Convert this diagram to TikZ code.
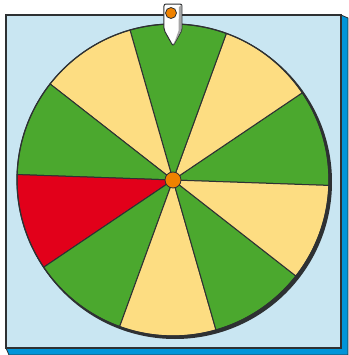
\documentclass[tikz,border=0pt]{standalone}
\usepackage{tikz}
\usetikzlibrary{calc}
\definecolor{ink}{HTML}{2E3133}
\definecolor{boardc}{HTML}{C9E6F2}
\definecolor{edgec}{HTML}{0095D9}
\definecolor{greenc}{HTML}{4BA82E}
\definecolor{yellowc}{HTML}{FDDD82}
\definecolor{redc}{HTML}{E2001A}
\definecolor{hubc}{HTML}{EF8200}

\begin{document}
\begin{tikzpicture}[
  x=0.5pt, y=0.5pt,
  board/.style={fill=boardc, draw=ink, line width=0.7pt},
  side/.style={fill=edgec, draw=ink, line width=0.4pt, line join=round},
  sector/.style={draw=ink, line width=0.5pt, line join=round},
  dot/.style={circle, fill=hubc, draw=ink, line width=0.4pt, inner sep=0pt},
]
\useasboundingbox (0,0) rectangle (349,355);
% -- board with its blue edge
\filldraw[side] (6,7) -- (9,0) -- (348,0) -- (348,337) -- (341,340) -- (341,7) -- cycle;
\filldraw[board] (6,7) rectangle (341,340);
% -- wheel
\coordinate (hub) at (173,175);
\fill[ink] ($(hub)+(2,-2)$) circle[radius=157];
\foreach \a/\c in {358/greenc, 34/yellowc, 70/greenc, 106/yellowc, 142/greenc,
                   178/redc, 214/greenc, 250/yellowc, 286/greenc, 322/yellowc}
  \filldraw[sector, fill=\c] (hub) -- ++(\a:156) arc[start angle=\a, delta angle=36, radius=156] -- cycle;
\draw[ink, line width=0.6pt] (hub) circle[radius=156];
\node[dot, minimum size=8pt] (axle) at (hub) {};
% -- pointer
\filldraw[fill=white, draw=ink, line width=0.5pt, rounded corners=1pt]
  (164,351) -- (182,351) -- (182,325) -- (173,309) -- (164,325) -- cycle;
\fill[gray!70] (179,348) -- (181.5,350.5) -- (181.5,325) -- (173.5,310) -- (178.5,324) -- cycle;
\node[dot, minimum size=5.5pt] (knob) at (171,342) {};
\end{tikzpicture}
\end{document}
